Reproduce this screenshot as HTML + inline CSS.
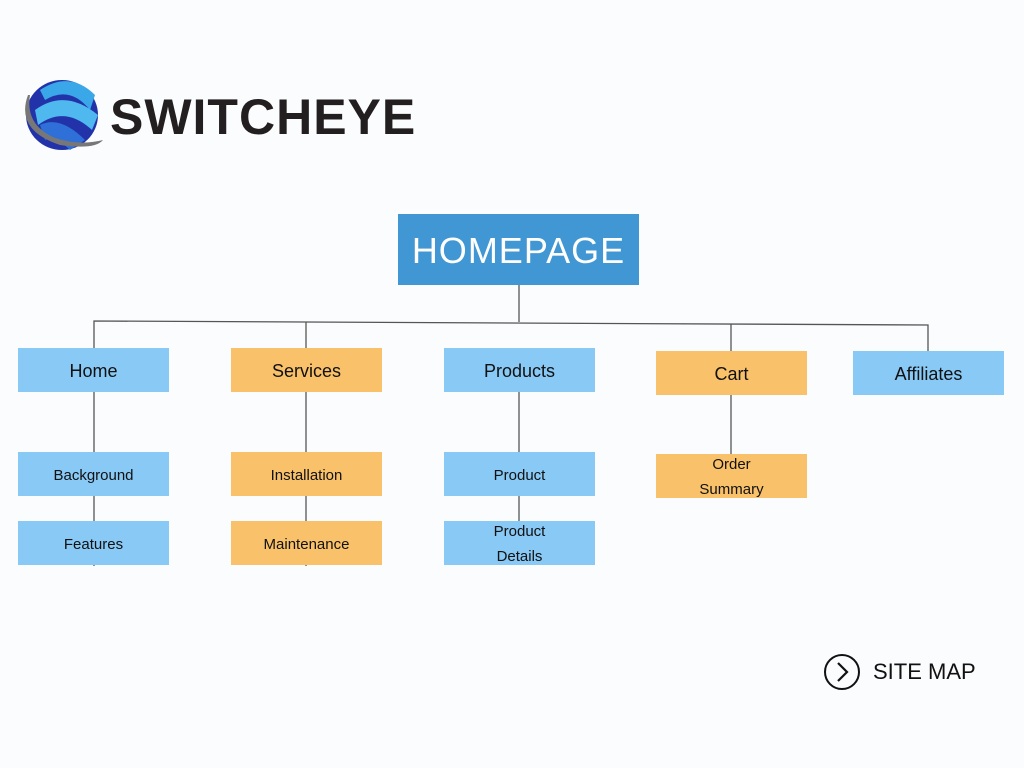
<!DOCTYPE html>
<html><head><meta charset="utf-8"><style>
body{margin:0;width:1024px;height:768px;background:#fbfcfe;position:relative;overflow:hidden;font-family:"Liberation Sans",sans-serif;}
.b{position:absolute;width:151px;height:44px;display:flex;align-items:center;justify-content:center;text-align:center;color:#111;font-size:15px;line-height:25px;padding-top:2px;box-sizing:border-box}
.bl{background:#88c9f5}.or{background:#f9c16a}
.big{font-size:18px}
</style></head><body>
<svg width="1024" height="768" style="position:absolute;left:0;top:0">
<g stroke="#555" stroke-width="1.3" fill="none">
<line x1="519" y1="284" x2="519" y2="322"/>
<polyline points="94,348 94,321 928,325 928,351"/>
<line x1="306" y1="322" x2="306" y2="348"/>
<line x1="731" y1="324" x2="731" y2="351"/>
<line x1="94" y1="392" x2="94" y2="566"/>
<line x1="306" y1="392" x2="306" y2="566"/>
<line x1="519" y1="392" x2="519" y2="521"/>
<line x1="731" y1="394" x2="731" y2="454"/>
</g>
<g>
<ellipse cx="62" cy="115" rx="36" ry="35" fill="#2233aa"/>
<path d="M40 90 Q70 70 95 95 L90 110 Q70 85 45 100Z" fill="#3aa8e8"/>
<path d="M35 110 Q65 88 98 115 L92 130 Q65 105 38 125Z" fill="#4fb8ee"/>
<path d="M40 125 Q60 115 85 140 L70 150 Q55 135 45 140Z" fill="#2e6fd8"/>
<path d="M28 95 Q15 130 60 145 Q95 150 103 140 Q80 146 55 138 Q25 125 30 95Z" fill="#777"/>
</g>
<circle cx="842" cy="672" r="17" fill="none" stroke="#111" stroke-width="2"/>
<polyline points="838,663 847,672 838,681" fill="none" stroke="#111" stroke-width="2.2"/>
</svg>
<div style="position:absolute;left:110px;top:88px;font-size:50px;font-weight:bold;color:#231f20;letter-spacing:1px">SWITCHEYE</div>
<div class="b" style="left:398px;top:214px;width:241px;height:71px;background:#4197d3;color:#fff;font-size:36px;letter-spacing:1px">HOMEPAGE</div>
<div class="b bl big" style="left:18px;top:348px">Home</div>
<div class="b or big" style="left:231px;top:348px">Services</div>
<div class="b bl big" style="left:444px;top:348px">Products</div>
<div class="b or big" style="left:656px;top:351px">Cart</div>
<div class="b bl big" style="left:853px;top:351px">Affiliates</div>
<div class="b bl" style="left:18px;top:452px">Background</div>
<div class="b bl" style="left:18px;top:521px">Features</div>
<div class="b or" style="left:231px;top:452px">Installation</div>
<div class="b or" style="left:231px;top:521px">Maintenance</div>
<div class="b bl" style="left:444px;top:452px">Product</div>
<div class="b bl" style="left:444px;top:521px">Product<br>Details</div>
<div class="b or" style="left:656px;top:454px">Order<br>Summary</div>
<div style="position:absolute;left:873px;top:659px;font-size:22px;color:#111">SITE MAP</div>
</body></html>
